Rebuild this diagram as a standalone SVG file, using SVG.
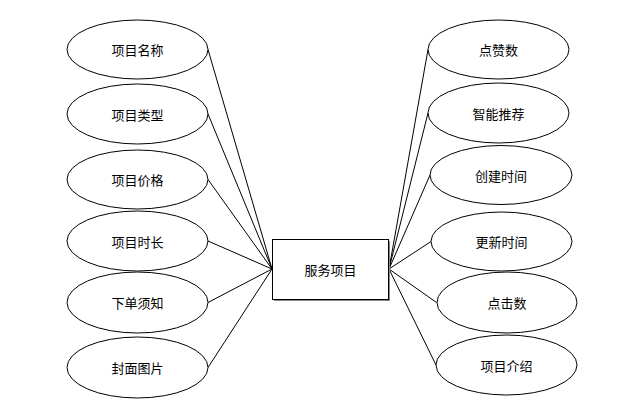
<svg xmlns="http://www.w3.org/2000/svg" width="638" height="414" viewBox="0 0 638 414">
<style>
.e{fill:#fff;stroke:#000;stroke-width:1}
.t{font-family:"Noto Sans CJK SC","Liberation Sans",sans-serif;font-size:13px;fill:#000;text-anchor:middle;dominant-baseline:central}
.c line{stroke:#000;stroke-width:1}
</style>
<rect width="638" height="414" fill="#fff"/>
<g class="c" id="connectors">
<line x1="208" y1="49.5" x2="272" y2="269"/>
<line x1="208" y1="114" x2="272" y2="269"/>
<line x1="208" y1="179.5" x2="272" y2="269"/>
<line x1="208" y1="241" x2="272" y2="269"/>
<line x1="208" y1="302.5" x2="272" y2="269"/>
<line x1="208" y1="367.5" x2="272" y2="269"/>
<line x1="389" y1="269" x2="428" y2="49.5"/>
<line x1="389" y1="269" x2="428" y2="113"/>
<line x1="389" y1="269" x2="430" y2="175"/>
<line x1="389" y1="269" x2="431" y2="241.5"/>
<line x1="389" y1="269" x2="436.5" y2="302.5"/>
<line x1="389" y1="269" x2="436" y2="365"/>
</g>
<g id="center">
<rect x="274" y="241" width="116" height="60" fill="#888"/>
<rect x="272.5" y="239.5" width="116" height="60" fill="#fff" stroke="#000"/>
<text class="t" x="330.5" y="269.5">服务项目</text>
</g>
<g id="n1"><ellipse class="e" cx="137.5" cy="49.5" rx="70.5" ry="29.5"/><text class="t" x="137.5" y="49.5">项目名称</text></g>
<g id="n2"><ellipse class="e" cx="137.5" cy="114" rx="70.5" ry="30"/><text class="t" x="137.5" y="114">项目类型</text></g>
<g id="n3"><ellipse class="e" cx="137.5" cy="179.5" rx="70.5" ry="29.5"/><text class="t" x="137.5" y="179.5">项目价格</text></g>
<g id="n4"><ellipse class="e" cx="137.5" cy="241" rx="70.5" ry="30"/><text class="t" x="137.5" y="241">项目时长</text></g>
<g id="n5"><ellipse class="e" cx="137.5" cy="302.5" rx="70.5" ry="30.5"/><text class="t" x="137.5" y="302.5">下单须知</text></g>
<g id="n6"><ellipse class="e" cx="137.5" cy="367.5" rx="70.5" ry="30.5"/><text class="t" x="137.5" y="367.5">封面图片</text></g>
<g id="n7"><ellipse class="e" cx="498.5" cy="49.5" rx="70.5" ry="29.5"/><text class="t" x="498.5" y="49.5">点赞数</text></g>
<g id="n8"><ellipse class="e" cx="498.5" cy="113" rx="70.5" ry="30"/><text class="t" x="498.5" y="113">智能推荐</text></g>
<g id="n9"><ellipse class="e" cx="501" cy="175" rx="71" ry="29.5"/><text class="t" x="501" y="175">创建时间</text></g>
<g id="n10"><ellipse class="e" cx="501.5" cy="241.5" rx="70.5" ry="29.5"/><text class="t" x="501.5" y="241.5">更新时间</text></g>
<g id="n11"><ellipse class="e" cx="507" cy="302.5" rx="70" ry="30.5"/><text class="t" x="507" y="302.5">点击数</text></g>
<g id="n12"><ellipse class="e" cx="506.5" cy="365" rx="70.5" ry="30"/><text class="t" x="506.5" y="365">项目介绍</text></g>
</svg>
